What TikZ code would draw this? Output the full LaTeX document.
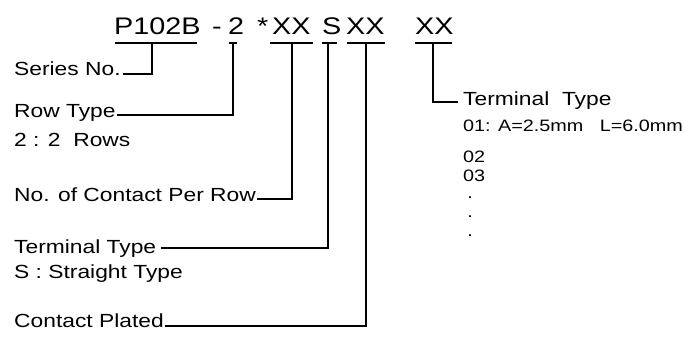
\documentclass[tikz,border=0pt]{standalone}
\usepackage{fontspec}
\setmainfont{Liberation Sans}[FakeStretch=1.2]
\usetikzlibrary{calc}
\tikzset{
    code/.style={anchor=base west, inner sep=0pt, font=\fontsize{24}{28}\selectfont},
    lbl/.style={anchor=base west, inner sep=0pt, font=\fontsize{19}{22}\selectfont},
    note/.style={anchor=base west, inner sep=0pt, font=\fontsize{16.5}{19}\selectfont},
    lead/.style={line width=1.2pt, black}
}

\begin{document}
\begin{tikzpicture}[x=1pt, y=-1pt]
    \useasboundingbox (0,0) rectangle (684,338);
    \foreach \nm/\txt/\xt in {pn/P102B/114, dsh/-/212, rw/2/228, st/*/257, ct/XX/272, tm/S/322, pl/XX/346, tt/XX/415}
        \node[code] (\nm) at (\xt,34) {\txt};
    \foreach \nm/\xa/\xb/\xs in {pn/115/197/152, rw/229/237/233, ct/270/313/292, tm/322/337/328, pl/347/385/366, tt/415/452/433} {
        \draw[lead] (\xa,43) -- (\xb,43);
        \coordinate (\nm-u) at (\xs,43);
    }
    \node[lbl] (lSer) at (14,75) {Series No.};
    \node[lbl] (lRow) at (14,117) {Row Type};
    \node[lbl] (lRowV) at (14,146) {2 : 2~~Rows};
    \node[lbl] (lCnt) at (14,201) {No. of Contact Per Row};
    \node[lbl] (lTrm) at (14,253) {Terminal Type};
    \node[lbl] (lTrmV) at (14,278) {S : Straight Type};
    \node[lbl] (lPlt) at (14,327) {Contact Plated};
    \node[lbl] (rTrm) at (463,105) {Terminal~~Type};
    \node[note] (rOpt1) at (463,131) {01: A=2.5mm~~~L=6.0mm};
    \node[note] (rOpt2) at (463,162) {02};
    \node[note] (rOpt3) at (463,181) {03};
    \foreach \y [count=\i] in {198,217,236}
        \node[note, anchor=base] (rDot\i) at (470,\y) {.};
    \draw[lead] (pn-u) |- ([xshift=2pt,yshift=1pt]lSer.base east);
    \draw[lead] (rw-u) |- ([xshift=1pt,yshift=2pt]lRow.base east);
    \draw[lead] (ct-u) |- ([xshift=1pt,yshift=2pt]lCnt.base east);
    \draw[lead] (tm-u) |- ([xshift=5pt,yshift=5pt]lTrm.base east);
    \draw[lead] (pl-u) |- ([xshift=1pt,yshift=1pt]lPlt.base east);
    \draw[lead] (tt-u) |- ([xshift=-5pt,yshift=3pt]rTrm.base west);
\end{tikzpicture}
\end{document}
